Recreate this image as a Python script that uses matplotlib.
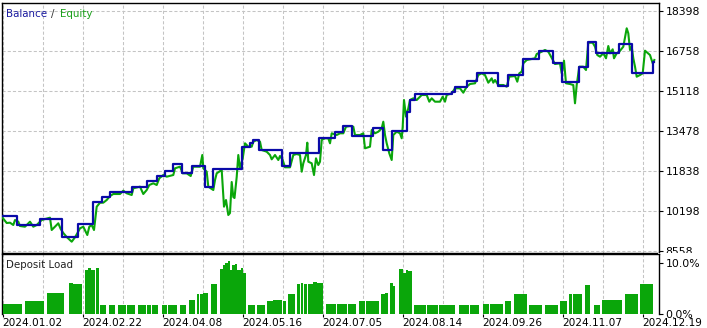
import numpy as np
import matplotlib.pyplot as plt
from matplotlib.patches import Rectangle

# Balance (step line): deal position and balance value after it
bal_x = [2, 16.7, 40, 61.7, 78.3, 93.3, 101.7, 110, 131.7, 146.7, 156.7, 165, 173.3,
         181.7, 191.7, 205, 213.3, 241.7, 250, 253, 259, 281.7, 290, 319.3, 335, 343.3,
         351.7, 373.3, 383.3, 392.3, 406.7, 410, 415, 451.7, 455, 467, 476.7, 497.7,
         508.3, 523.3, 539, 552.7, 561.7, 579, 587.7, 596, 619.3, 632, 652.7, 654.3]
bal_y = [10005, 9649, 9870, 9157, 9665, 10592, 10772, 10989, 11194, 11428, 11645, 11863,
         12125, 11756, 12068, 11182, 11932, 12847, 12986, 13121, 12711, 12055, 12601,
         13203, 13437, 13695, 13285, 13601, 12711, 13490, 14282, 14761, 15007, 15102,
         15307, 15528, 15881, 15335, 15786, 16430, 16770, 16266, 15487, 16127, 17139,
         16676, 17070, 15856, 16332, 16332]

# Equity
eq_x = [2, 6.7, 10, 13.3, 15, 18.3, 20, 25, 30, 33.3, 36.7, 41.7, 50, 51.7, 55, 58.3,
        60.7, 63.3, 66.7, 71.7, 75, 77.3, 80, 83.3, 87.3, 89.3, 91.7, 94, 96.7, 100,
        103.3, 106.7, 110, 113.3, 120, 123.3, 126.7, 131.7, 133.3, 140, 143.3, 146.7,
        149.3, 153.3, 156.7, 159.3, 163.3, 166.7, 173.3, 175, 180, 182.7, 186.7, 190.7,
        193.3, 200, 202.3, 203.3, 206.7, 208.3, 213.3, 215, 216.7, 221.7, 224, 226,
        228.3, 230, 231.7, 233.3, 234.5, 236.7, 238.3, 240, 242.7, 245, 248.3, 251.7,
        253.3, 256.7, 260, 261.7, 266.7, 270, 271.7, 275, 278.3, 280, 282.7, 285, 290,
        293.3, 296.7, 300, 301.7, 303.3, 306, 307.3, 308.3, 311.7, 314, 316, 318.3, 320,
        321.7, 325, 328.3, 330, 331.7, 336.7, 340, 343.3, 346, 350, 353.3, 355, 360,
        363.3, 365, 370, 371.7, 375, 378.3, 381.7, 383.3, 385, 386.7, 389.3, 391.7,
        393.3, 396.7, 400, 401.7, 402.7, 404, 406, 408.3, 410, 413.3, 416.7, 421.7,
        426.7, 429.3, 431.7, 435, 440, 442.7, 445, 446.7, 451.7, 455, 460, 463.3, 466.7,
        470, 475, 478.3, 481.7, 485, 488.3, 491.7, 493.3, 495, 498.3, 503.3, 506.7,
        509.3, 515, 517.3, 519.3, 521.7, 523.3, 526.7, 530, 535, 536.7, 541.7, 545,
        548.3, 550.7, 555, 560, 561.7, 564, 566, 570, 573.3, 575, 576.7, 579.3, 583.3,
        586, 588.3, 592.7, 595, 597.3, 600, 603.3, 606, 608.3, 610, 612.7, 614, 616.7,
        619.3, 623.3, 626.7, 628.3, 630, 631.7, 633.3, 635, 636.7, 640, 642.7, 645,
        647.3, 650, 652.7, 654.3]
eq_y = [9964, 9718, 9731, 9636, 9841, 9772, 9595, 9566, 9772, 9566, 9636, 9841, 9936,
        9431, 9566, 9706, 9472, 9308, 9144, 8952, 9132, 9296, 9501, 9566, 9226, 9566,
        9636, 9431, 10387, 10551, 10551, 10661, 10825, 10907, 10907, 11043, 10936, 10866,
        11141, 11207, 10907, 11071, 11276, 11346, 11276, 11551, 11686, 11617, 11686,
        11961, 12027, 11756, 11756, 11645, 12027, 12027, 12506, 11961, 11822, 11207,
        11071, 11481, 11756, 11891, 10387, 10661, 10046, 10128, 11399, 10784, 10743,
        11604, 12506, 11961, 12371, 12986, 12847, 12847, 13052, 13121, 13052, 12711,
        12642, 12506, 12330, 12506, 12301, 12465, 12301, 12002, 12002, 12506, 12547,
        12506, 11822, 12166, 12506, 13011, 12232, 12166, 11686, 12371, 12096, 12232,
        13121, 13191, 13191, 12986, 13396, 13326, 13396, 13396, 13667, 13695, 13667,
        13326, 13326, 13396, 12781, 12847, 13531, 13396, 13462, 13601, 13872, 13326,
        12986, 12576, 12301, 13326, 13462, 13396, 13191, 13667, 14761, 14077, 14421,
        14761, 14831, 14761, 14966, 14966, 14692, 14831, 14692, 14692, 14897, 14692,
        14966, 15036, 15241, 15241, 15061, 15307, 15417, 15446, 15786, 15856, 15786,
        15471, 15651, 15471, 15581, 15376, 15376, 15307, 15717, 15745, 15512, 15856,
        15922, 16266, 16401, 16430, 16471, 16647, 16742, 16811, 16742, 16565, 16237,
        16266, 15856, 16373, 15446, 15417, 15376, 14626, 15376, 16127, 16127, 15991,
        17111, 17111, 16947, 16606, 16537, 16676, 16471, 16975, 16676, 16840, 16471,
        16676, 16742, 16947, 17701, 17496, 16811, 16947, 16471, 16127, 15717, 15786,
        15856, 16783, 16701, 16606, 16266, 16401]

# Deposit load (%), groups of bars: start, end, value
dl_start = [2.7, 7.3, 25, 46.7, 69, 73.3, 85, 88.3, 90.7, 95.7, 100, 109, 118.3, 127.3,
            138.3, 147.3, 152, 162.3, 168, 172.7, 180, 189, 196.7, 200, 203.3, 210.7,
            220, 223.3, 225, 227.7, 230, 231.7, 235, 237.3, 240.7, 243.3, 248.3, 256.7,
            266.7, 273.3, 282.7, 287.7, 296.7, 300.7, 304, 308.3, 313.3, 316.7, 326,
            336.7, 348.3, 359.3, 366, 380.7, 385, 390, 393.3, 398.7, 402.7, 406, 408.3,
            414, 426.7, 439.3, 459.3, 470, 482.7, 490, 505, 514, 529, 545, 560, 568.7,
            573.3, 585, 594, 602.3, 625, 640, 643.3, 646.7]
dl_end = [6.7, 21.7, 44.3, 64, 72.7, 82, 88.3, 90.7, 95, 98.7, 105.7, 115, 126, 135,
          146, 151, 158.3, 167, 176.7, 176.7, 186, 195, 199.3, 202.7, 208.3, 216.7,
          223.3, 225, 227.7, 230, 231.7, 235, 237.3, 240.7, 243.3, 246, 255, 265, 272.7,
          281.7, 286, 295, 300, 303.3, 306.7, 312.7, 316.7, 322.7, 335.7, 346.7, 356,
          365, 379.3, 385, 388.3, 393.3, 395, 402.7, 406, 408.3, 411.7, 425.7, 438.3,
          455, 469, 479.3, 489.3, 503.3, 511, 526.7, 541.7, 558.3, 566.7, 572.3, 581.7,
          590, 600, 621.7, 638.3, 643.3, 646.7, 652.7]
dl_val = [2.0, 2.0, 2.5, 4.1, 6.1, 5.9, 8.5, 8.9, 8.6, 9.0, 1.8, 1.8, 1.8, 1.8, 1.8,
          1.8, 1.8, 1.8, 1.8, 1.8, 1.8, 2.7, 3.9, 4.0, 4.2, 5.8, 8.8, 9.6, 9.9, 10.3,
          8.6, 9.6, 9.8, 8.6, 9.0, 8.0, 1.8, 1.8, 2.5, 2.7, 2.6, 3.9, 5.8, 6.0, 5.9,
          5.9, 6.2, 6.0, 2.0, 2.0, 2.0, 2.6, 2.5, 4.0, 4.1, 6.0, 5.5, 8.8, 8.0, 8.5,
          8.3, 1.8, 1.8, 1.8, 1.8, 1.8, 2.0, 2.0, 2.6, 3.9, 1.8, 1.8, 2.5, 3.9, 4.0,
          5.7, 1.8, 2.7, 3.9, 5.9, 5.8, 5.9]

y_ticks = [8558, 10198, 11838, 13478, 15118, 16758, 18398]
date_labels = ['2024.01.02', '2024.02.22', '2024.04.08', '2024.05.16', '2024.07.05',
               '2024.08.14', '2024.09.26', '2024.11.07', '2024.12.19']

W, H = 707, 328
plt.rcParams['font.family'] = 'DejaVu Sans'
fig = plt.figure(figsize=(W / 100, H / 100), dpi=100)

green = '#0aa60a'
blue = '#0a0aa8'
grid_kw = dict(color='#c4c4c4', linestyle=(0, (3, 2)), linewidth=0.75)
x_grid = np.arange(2.7, 658, 40)

# main panel
ax = fig.add_axes([2 / W, 1 - 252.5 / H, 656.5 / W, 250 / H])
ax.plot(eq_x, eq_y, color=green, linewidth=1.5, zorder=3)
ax.plot(bal_x, bal_y, color=blue, linewidth=1.6, drawstyle='steps-post', zorder=4)
ax.set_xlim(2, 658.5)
ax.set_ylim(18861.3 - 41 * 252.5, 18861.3 - 41 * 2.5)
ax.set_yticks(y_ticks)
ax.set_yticklabels([str(v) for v in y_ticks])
ax.yaxis.tick_right()
ax.set_xticks(x_grid)
ax.set_xticklabels([])
ax.tick_params(axis='x', length=0)
ax.tick_params(axis='y', length=3, width=0.8, pad=2, labelsize=7.8)
ax.grid(True, **grid_kw)
for s in ax.spines.values():
    s.set_linewidth(1.0)

for txt, x0, col in [('Balance', 6, '#1a1aa0'), ('/', 51, '#333333'), ('Equity', 60, '#1aa01a')]:
    fig.text(x0 / W, 1 - 14 / H, txt, fontsize=7.4, color=col, va='center', ha='left')

# white strip so the lowest price label is partly hidden by the lower panel
fig.patches.append(Rectangle((658 / W, 1 - 257 / H), 49 / W, 4.5 / H,
                             transform=fig.transFigure, facecolor='white',
                             edgecolor='none', zorder=0.5))

# deposit load panel
ax2 = fig.add_axes([2 / W, 1 - 314.3 / H, 656.5 / W, 60.3 / H])
ax2.set_zorder(1)
widths = np.array(dl_end) - np.array(dl_start)
ax2.bar(dl_start, dl_val, width=widths, align='edge', color=green, linewidth=0, zorder=3)
ax2.set_xlim(2, 658.5)
ax2.set_ylim(0, 11.69)
ax2.set_yticks([0, 10])
ax2.set_yticklabels(['0.0%', '10.0%'])
ax2.yaxis.tick_right()
ax2.tick_params(axis='y', length=3, width=0.8, pad=2, labelsize=7.8)
ax2.set_xticks(x_grid[::2])
ax2.set_xticklabels(date_labels, ha='left')
ax2.set_xticks(x_grid[1::2], minor=True)
ax2.tick_params(axis='x', which='major', length=2, width=0.8, pad=0.5, labelsize=7.6)
ax2.tick_params(axis='x', which='minor', length=0)
ax2.grid(True, axis='x', which='both', **grid_kw)
ax2.spines['bottom'].set_visible(False)
for s in ['top', 'left', 'right']:
    ax2.spines[s].set_linewidth(1.0)
fig.text(6 / W, 1 - 265 / H, 'Deposit Load', fontsize=7.4, color='#222222', va='center')

fig.savefig('out.png', dpi=100)
